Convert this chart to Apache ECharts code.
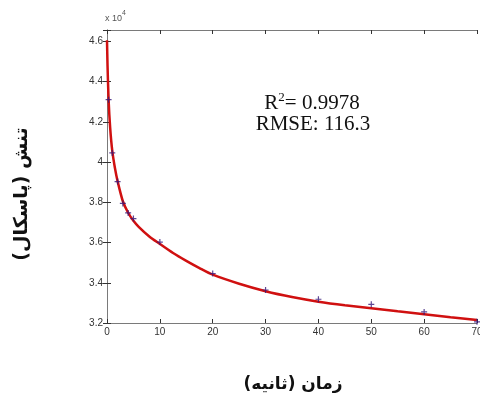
<!DOCTYPE html>
<html>
<head>
<meta charset="utf-8">
<script src="https://cdn.jsdelivr.net/npm/echarts@6/dist/echarts.min.js"></script>
<style>
  html, body { margin: 0; padding: 0; background: #fff; }
  #chart { width: 480px; height: 398px; }
</style>
</head>
<body>
<div id="chart"></div>
<script>
// measured points (time in s, stress in Pa)
const pointTime = [0.3, 1, 2, 3, 4, 5, 10, 20, 30, 40, 50, 60, 70];
const pointStress = [43100, 40450, 39030, 37940, 37470, 37190, 36020, 34460, 33640, 33180, 32930, 32550, 32060];

// fitted curve
const fitTime = [0, 0.1, 0.3, 0.6, 1, 1.5, 2, 3, 4, 5, 6, 8, 10, 12.5, 15, 17.5, 20, 25, 30, 35, 40, 45, 50, 55, 60, 65, 70];
const fitStress = [46050, 44800, 43100, 41700, 40550, 39700, 39050, 38050, 37480, 37080, 36780, 36300, 35930, 35480, 35090, 34730, 34400, 33950, 33580, 33290, 33060, 32880, 32730, 32580, 32440, 32290, 32150];

const xTicks = [0, 10, 20, 30, 40, 50, 60, 70];
const yTicks = [32000, 34000, 36000, 38000, 40000, 42000, 44000, 46000];

const chartDom = document.getElementById('chart');
const chart = echarts.init(chartDom);

const axisGray = '#7a7a7a';
const labelStyle = { color: '#333', fontFamily: 'Liberation Sans', fontSize: 10 };

const option = {
  backgroundColor: '#fff',
  animation: false,
  grid: { left: 107, right: 3, top: 30, bottom: 75, outerBoundsMode: 'none' },
  xAxis: [
    {
      type: 'value',
      min: 0,
      max: 70,
      interval: 10,
      axisLine: { lineStyle: { color: axisGray, width: 1 } },
      axisTick: { inside: true, length: 4, lineStyle: { color: '#333' } },
      axisLabel: {
        ...labelStyle,
        margin: 4,
        formatter: (v) => (xTicks.includes(v) ? String(v) : '')
      },
      splitLine: { show: false }
    },
    {
      type: 'value',
      position: 'top',
      min: 0,
      max: 70,
      interval: 10,
      axisLine: { lineStyle: { color: axisGray, width: 1 } },
      axisTick: { inside: true, length: 4, lineStyle: { color: '#333' } },
      axisLabel: { show: false },
      splitLine: { show: false }
    }
  ],
  yAxis: [
    {
      type: 'value',
      min: 32000,
      max: 46560,
      interval: 2000,
      axisLine: { show: true, lineStyle: { color: axisGray, width: 1 } },
      axisTick: { show: true, inside: true, length: 4, lineStyle: { color: '#333' } },
      axisLabel: {
        ...labelStyle,
        margin: 4,
        formatter: (v) => (yTicks.includes(v) ? String(v / 10000) : '')
      },
      splitLine: { show: false }
    },
    {
      type: 'value',
      position: 'right',
      min: 32000,
      max: 46560,
      interval: 2000,
      axisLine: { show: true, lineStyle: { color: axisGray, width: 1 } },
      axisTick: { show: true, inside: true, length: 4, lineStyle: { color: '#333' } },
      axisLabel: { show: false },
      splitLine: { show: false }
    }
  ],
  series: [
    {
      type: 'line',
      data: fitTime.map((t, i) => [t, fitStress[i]]),
      smooth: 0.25,
      showSymbol: false,
      lineStyle: { color: '#d01010', width: 2.5 },
      z: 2
    },
    {
      type: 'scatter',
      data: pointTime.map((t, i) => [t, pointStress[i]]),
      symbol: 'path://M2,0H3V2H5V3H3V5H2V3H0V2H2Z',
      symbolSize: 6,
      itemStyle: { color: '#35187a' },
      z: 3
    }
  ],
  graphic: [
    {
      type: 'text',
      left: 105,
      top: 10,
      style: {
        text: '{a|x 10}{b|4}',
        rich: {
          a: { fontFamily: 'Liberation Sans', fontSize: 9, fill: '#555', padding: [4, 0, 0, 0] },
          b: { fontFamily: 'Liberation Sans', fontSize: 7, fill: '#555', verticalAlign: 'top' }
        }
      }
    },
    {
      type: 'text',
      x: 312,
      y: 103,
      style: {
        text: '{r|R}{s|2}{r|= 0.9978}',
        align: 'center',
        verticalAlign: 'middle',
        rich: {
          r: { fontFamily: 'Liberation Serif', fontSize: 21, fill: '#111' },
          s: { fontFamily: 'Liberation Serif', fontSize: 13, fill: '#111', padding: [0, 0, 10, 0] }
        }
      }
    },
    {
      type: 'text',
      x: 313,
      y: 124,
      style: {
        text: 'RMSE: 116.3',
        align: 'center',
        verticalAlign: 'middle',
        fontFamily: 'Liberation Serif',
        fontSize: 21,
        fill: '#111'
      }
    },
    {
      type: 'text',
      x: 22,
      y: 194,
      rotation: Math.PI / 2,
      style: {
        text: 'تنش (پاسکال)',
        align: 'center',
        verticalAlign: 'middle',
        fontFamily: 'DejaVu Sans',
        fontWeight: 'bold',
        fontSize: 19,
        fill: '#111'
      }
    },
    {
      type: 'text',
      x: 293,
      y: 385,
      style: {
        text: 'زمان (ثانیه)',
        align: 'center',
        verticalAlign: 'middle',
        fontFamily: 'DejaVu Sans',
        fontWeight: 'bold',
        fontSize: 17,
        fill: '#111'
      }
    }
  ]
};

chart.setOption(option);
</script>
</body>
</html>
